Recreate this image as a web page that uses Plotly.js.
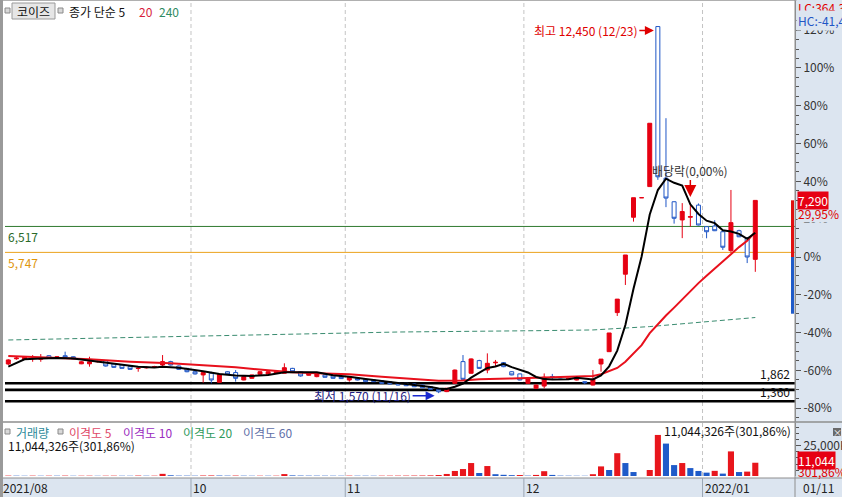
<!DOCTYPE html>
<html><head><meta charset="utf-8">
<script src="https://cdn.plot.ly/plotly-3.0.1.min.js"></script>
<style>html,body{margin:0;padding:0;background:#fff;overflow:hidden}#chart{width:842px;height:497px}</style>
</head><body><div id="chart"></div>
<script>
// ---------------- data ----------------
const dates = [
'2021-08-26','2021-08-27','2021-08-30','2021-08-31',
'2021-09-01','2021-09-02','2021-09-03','2021-09-06','2021-09-07','2021-09-08','2021-09-09','2021-09-10','2021-09-13','2021-09-14','2021-09-15','2021-09-16','2021-09-17','2021-09-23','2021-09-24','2021-09-27','2021-09-28','2021-09-29','2021-09-30',
'2021-10-01','2021-10-05','2021-10-06','2021-10-07','2021-10-08','2021-10-12','2021-10-13','2021-10-14','2021-10-15','2021-10-18','2021-10-19','2021-10-20','2021-10-21','2021-10-22','2021-10-25','2021-10-26','2021-10-27','2021-10-28','2021-10-29',
'2021-11-01','2021-11-02','2021-11-03','2021-11-04','2021-11-05','2021-11-08','2021-11-09','2021-11-10','2021-11-11','2021-11-12','2021-11-15','2021-11-16','2021-11-17','2021-11-18','2021-11-19','2021-11-22','2021-11-23','2021-11-24','2021-11-25','2021-11-26','2021-11-29','2021-11-30',
'2021-12-01','2021-12-02','2021-12-03','2021-12-06','2021-12-07','2021-12-08','2021-12-09','2021-12-10','2021-12-13','2021-12-14','2021-12-15','2021-12-16','2021-12-17','2021-12-20','2021-12-21','2021-12-22','2021-12-23','2021-12-24','2021-12-27','2021-12-28','2021-12-29','2021-12-30',
'2022-01-03','2022-01-04','2022-01-05','2022-01-06','2022-01-07','2022-01-10','2022-01-11'];

const opens = [
2435,2590,2575,2600,2575,2680,2605,2680,2650,2440,
2440,2500,2535,2435,2405,2355,2300,2320,2340,2405,
2505,2375,2305,2205,2110,2160,1890,2205,2180,1960,
2010,2130,2130,2160,2160,2305,2205,2100,2060,2110,
2080,2060,1960,2010,1980,1960,1940,1910,1880,1860,
1840,1810,1760,1680,1615,1860,2505,2160,2535,2255,
2470,2475,2205,2140,1860,1715,1780,2060,1980,1980,
1960,1910,1810,2435,2800,3960,5100,6790,7370,7700,
12450,7950,7250,6710,6790,7150,6510,6530,6360,5800,
6390,6165,5540];
const highs = [
2575,2650,2660,2700,2730,2700,2670,2800,2660,2520,
2650,2530,2550,2450,2420,2370,2355,2360,2380,2700,
2530,2390,2320,2220,2205,2205,2140,2220,2255,2070,
2120,2220,2215,2215,2455,2320,2220,2190,2190,2120,
2090,2070,2070,2020,1990,1970,1950,1920,1890,1870,
1850,1820,1770,1700,1720,2270,2700,2600,2560,2750,
2555,2490,2220,2150,2020,1820,2155,2140,1995,2020,
2040,1915,2255,2580,3355,4360,5670,7370,7370,9580,
12450,9730,7260,7210,7210,7200,6520,6700,6380,7600,
6420,6200,7290];
const lows = [
2405,2560,2560,2500,2500,2590,2590,2600,2570,2430,
2355,2480,2360,2320,2300,2260,2205,2300,2330,2355,
2390,2260,2190,2120,1880,1860,1880,2120,1910,1950,
2000,2120,2120,2150,2150,2190,2060,2090,2040,2030,
2000,1990,1910,1950,1900,1900,1850,1830,1800,1780,
1750,1720,1670,1570,1600,1850,1960,2150,2290,2160,
2375,2340,2100,1950,1850,1700,1710,1960,1970,1960,
1950,1840,1800,2205,2790,3860,4780,6660,7370,7700,
7900,7090,6600,6170,6510,6550,6165,6380,5820,5740,
6200,5430,5170];
const closes = [
2555,2610,2635,2610,2605,2605,2650,2635,2585,2500,
2500,2510,2375,2335,2305,2275,2310,2335,2355,2505,
2405,2275,2205,2140,2180,1960,2130,2130,2010,2060,
2110,2205,2205,2205,2325,2205,2080,2180,2180,2040,
2010,2000,2060,1960,1910,1910,1860,1840,1810,1790,
1760,1730,1685,1610,1715,2255,1980,2585,2305,2455,
2485,2355,2110,1960,2010,1810,2040,2055,1980,2010,
2030,1880,1985,2580,3355,4360,5670,7370,7370,9580,
7990,7360,6760,6960,6810,6560,6360,6390,5900,6630,
6210,5610,7290];
// volume in thousand shares (K)
const volumes = [
300,250,200,280,220,260,240,310,200,230,
260,180,240,270,220,200,350,230,260,1800,
600,300,280,250,400,450,380,300,350,260,
220,240,230,250,1600,500,350,300,280,260,
240,230,300,250,240,220,260,280,300,320,
350,400,500,800,1700,4200,5800,10800,2500,8300,
1500,1000,700,800,300,900,4000,900,300,250,
200,180,1500,8000,5000,19000,10800,3300,0,5000,
34200,27000,9100,10800,6600,4200,2800,4300,2000,20500,
3300,3658.76,11044.326];

// moving averages (index into dates, value)
const ma5Idx  = [0,2,4,6,8,10,12,14,16,18,19,21,23,24,26,28,30,32,34,36,38,40,42,44,46,48,50,52,53,54,55,56,57,58,59,60,61,62,63,64,65,66,67,68,69,70,71,72,73,74,75,76,77,78,79,80,81,82,83,84,85,86,87,88,89,90,91,92];
const ma5Vals = [2354,2574,2600,2615,2600,2540,2480,2405,2350,2330,2354,2320,2260,2220,2140,2095,2080,2110,2190,2200,2190,2098,2057,1990,1935,1880,1820,1755,1710,1690,1760,1849,2029,2168,2316,2362,2437,2342,2273,2184,2049,1986,1975,1979,1979,2023,1991,1977,2095,2366,2832,3590,4667,5625,6870,7597,7935,7812,7729,7174,6888,6688,6615,6403,6368,6298,6148,6328];
const ma20Idx  = [0,3,7,10,15,20,24,28,32,35,38,42,46,50,53,56,58,62,66,71,72,73,74,75,76,77,78,79,80,81,82,83,84,85,86,87,88,89,90,91,92];
const ma20Vals = [2672,2633,2603,2574,2503,2455,2405,2336,2250,2190,2158,2129,2057,1980,1940,1945,1980,2006,2030,2066,2081,2129,2211,2316,2501,2740,2993,3350,3625,3875,4108,4358,4597,4835,5051,5268,5464,5695,5904,6090,6355];
const ma240Idx  = [0,24,48,65,72,79,86,92];
const ma240Vals = [3147,3265,3384,3423,3445,3545,3680,3814];

const basePrice = 5610;          // previous close = 0% on right axis
const limitPct = 30;             // daily price limit band
const pctTicks = [120,100,80,60,40,20,0,-20,-40,-60,-80];
const levelValues = [6517, 5747];
const levelColors = ['#2f7a2f', '#eba21c'];
const supportValues = [1862, 1665, 1330];
const supportLabels = ['1,862', '', '1,360'];
const monthStartDates = ['2021-08-26','2021-10-01','2021-11-01','2021-12-01','2022-01-03'];
const monthLabels = ['2021/08','10','11','12','2022/01'];
const volTickVals = [25000];
const volTickText = ['25,000K'];

// ---------------- layout helpers ----------------
const W = 842, H = 497, ML = 5, MR = 47, PW = W - ML - MR;
const px = x => (x - ML) / PW;
const py = y => 1 - y / H;
const FONT = "'Noto Sans CJK KR', 'Noto Sans', sans-serif";
const RED = '#e60012', BLUE = '#1f56c6', PANEL = '#dce5f0';
const idx = d => dates.indexOf(d);

const traces = [];
traces.push({
  type: 'candlestick', x: dates, open: opens, high: highs, low: lows, close: closes,
  xaxis: 'x', yaxis: 'y', whiskerwidth: 0,
  increasing: {line: {color: RED, width: 1}, fillcolor: RED},
  decreasing: {line: {color: BLUE, width: 1}, fillcolor: '#ffffff'},
  hoverinfo: 'skip'
});
traces.push({type: 'scatter', mode: 'lines', x: ma240Idx.map(i => dates[i]), y: ma240Vals,
  line: {color: '#3a8c70', width: 1, dash: '5px,3px'}, xaxis: 'x', yaxis: 'y', hoverinfo: 'skip'});
traces.push({type: 'scatter', mode: 'lines', x: ma20Idx.map(i => dates[i]), y: ma20Vals,
  line: {color: '#e8101c', width: 2}, xaxis: 'x', yaxis: 'y', hoverinfo: 'skip'});
traces.push({type: 'scatter', mode: 'lines', x: ma5Idx.map(i => dates[i]), y: ma5Vals,
  line: {color: '#000000', width: 2}, xaxis: 'x', yaxis: 'y', hoverinfo: 'skip'});
traces.push({type: 'bar', x: dates, y: volumes, xaxis: 'x', yaxis: 'y2',
  marker: {color: volumes.map((v, i) => (i === 0 || v >= volumes[i - 1]) ? '#e8161c' : '#1f5bc9'), line: {width: 0}},
  hoverinfo: 'skip'});

// ---------------- shapes ----------------
const shapes = [];
shapes.push({type: 'rect', xref: 'paper', yref: 'paper', x0: px(795), x1: px(842), y0: 0, y1: 1, fillcolor: PANEL, line: {width: 0}, layer: 'below'});
shapes.push({type: 'rect', xref: 'paper', yref: 'paper', x0: px(0), x1: px(842), y0: 0, y1: py(478), fillcolor: PANEL, line: {width: 0}, layer: 'below'});
shapes.push({type: 'line', xref: 'paper', yref: 'paper', x0: px(0), x1: px(842), y0: py(478), y1: py(478), line: {color: '#8e8e8e', width: 1}});
shapes.push({type: 'line', xref: 'paper', yref: 'paper', x0: px(0), x1: px(842), y0: py(422), y1: py(422), line: {color: '#8e8e8e', width: 1.5}});
shapes.push({type: 'line', xref: 'paper', yref: 'paper', x0: px(0), x1: px(842), y0: py(0.5), y1: py(0.5), line: {color: '#b0b0b0', width: 1}});
shapes.push({type: 'line', xref: 'paper', yref: 'paper', x0: px(1.5), x1: px(1.5), y0: 0, y1: 1, line: {color: '#9a9a9a', width: 3}});
shapes.push({type: 'line', xref: 'paper', yref: 'paper', x0: px(795), x1: px(795), y0: 0, y1: 1, line: {color: '#8e8e8e', width: 1}});
monthStartDates.forEach((d, k) => {
  const b = idx(d) - 0.5;
  if (k > 0) {
    shapes.push({type: 'line', xref: 'x', yref: 'paper', x0: b, x1: b, y0: py(476), y1: py(1), line: {color: '#c4c4c4', width: 1, dash: '4px,3px'}, layer: 'below'});
    shapes.push({type: 'line', xref: 'x', yref: 'paper', x0: b, x1: b, y0: 0, y1: py(478), line: {color: '#9aa6b4', width: 1}});
  }
});
levelValues.forEach((v, k) => {
  shapes.push({type: 'line', xref: 'paper', yref: 'y', x0: 0, x1: 1, y0: v, y1: v, line: {color: levelColors[k], width: 1}, layer: 'below'});
});
supportValues.forEach(v => {
  shapes.push({type: 'line', xref: 'paper', yref: 'y', x0: 0, x1: 1, y0: v, y1: v, line: {color: '#000000', width: 2.6}, layer: 'below'});
});
shapes.push({type: 'rect', xref: 'paper', yref: 'y', x0: px(791), x1: px(794), y0: basePrice, y1: basePrice * (1 + limitPct / 100), fillcolor: '#e01010', line: {width: 0}});
shapes.push({type: 'rect', xref: 'paper', yref: 'y', x0: px(791), x1: px(794), y0: basePrice * (1 - limitPct / 100), y1: basePrice, fillcolor: '#1f5bc9', line: {width: 0}});
shapes.push({type: 'rect', xref: 'paper', yref: 'paper', x0: px(12), x1: px(55), y0: py(19), y1: py(3), fillcolor: '#e6e6e6', line: {color: '#9a9a9a', width: 1}});
[[5, 8], [58, 8], [5, 429], [58, 429]].forEach(([x, y]) => {
  shapes.push({type: 'rect', xref: 'paper', yref: 'paper', x0: px(x), x1: px(x + 5), y0: py(y + 5), y1: py(y), fillcolor: '#d8d8d8', line: {color: '#8a8a8a', width: 1}});
});
shapes.push({type: 'rect', xref: 'paper', yref: 'paper', x0: px(833), x1: px(841), y0: py(436), y1: py(428), fillcolor: '#6a6a6a', line: {width: 0}});

// ---------------- annotations ----------------
const ann = [];
const T = (x, y, text, color, opts) => Object.assign({xref: 'paper', yref: 'paper', x: px(x), y: py(y), text, showarrow: false,
  xanchor: 'left', yanchor: 'middle', font: {family: FONT, size: 12, color}}, opts || {});
const fmtPct = v => v.toFixed(2).replace('.', ',');
const last = closes[closes.length - 1], prev = closes[closes.length - 2];
const lastVol = volumes[volumes.length - 1], prevVol = volumes[volumes.length - 2];
const volText = Math.round(lastVol * 1000).toLocaleString('en-US') + '주(' + fmtPct(lastVol / prevVol * 100) + '%)';
// top legend
ann.push(T(33.5, 11, '코이즈', '#111', {xanchor: 'center'}));
ann.push(T(67, 11, '종가 단순 5', '#111'));
ann.push(T(137, 11, '20', '#d81e3c'));
ann.push(T(157, 11, '240', '#2e8b62'));
// volume legend
ann.push(T(14, 432, '거래량', '#2d8a9a'));
ann.push(T(67, 432, '이격도 5', '#e04868'));
ann.push(T(121, 432, '이격도 10', '#9a2cc0'));
ann.push(T(181, 432, '이격도 20', '#2f9a5c'));
ann.push(T(241, 432, '이격도 60', '#5f70a8'));
ann.push(T(6, 445, volText, '#111'));
ann.push(T(793, 430, volText, '#111', {xanchor: 'right'}));
// month labels
monthStartDates.forEach((d, k) => {
  if (k === 0) { ann.push(T(1, 487.5, monthLabels[k], '#222')); return; }
  ann.push({xref: 'x', yref: 'paper', x: idx(d) - 0.5, y: py(487.5), text: monthLabels[k], showarrow: false,
    xanchor: 'left', yanchor: 'middle', xshift: 0, font: {family: FONT, size: 12, color: '#222'}});
});
ann.push(T(801, 487.5, '01/11', '#222'));
// level labels
levelValues.forEach((v, k) => {
  ann.push({xref: 'paper', yref: 'y', x: px(6), y: v, text: v.toLocaleString('en-US'), showarrow: false,
    xanchor: 'left', yanchor: 'top', font: {family: FONT, size: 12, color: k === 0 ? '#2a6a2a' : '#e0960c'}});
});
supportValues.forEach((v, k) => {
  if (!supportLabels[k]) return;
  ann.push({xref: 'paper', yref: 'y', x: px(792), y: v, text: supportLabels[k], showarrow: false,
    xanchor: 'right', yanchor: 'bottom', yshift: -1, font: {family: FONT, size: 12, color: '#111'}});
});
// high / low markers
const hiI = highs.indexOf(Math.max(...highs)), loI = lows.indexOf(Math.min(...lows));
ann.push({xref: 'x', yref: 'y', x: hiI, y: highs[hiI], text: '최고 12,450 (12/23)', showarrow: true,
  ax: -72, ay: 0, yshift: -4, standoff: 4, arrowhead: 2, arrowsize: 1.2, arrowwidth: 1.5, arrowcolor: '#e00000',
  font: {family: FONT, size: 12, color: '#e00000'}});
ann.push({xref: 'x', yref: 'y', x: loI, y: lows[loI], text: '최저 1,570 (11/16)', showarrow: true,
  ax: -76, ay: 0, yshift: -2.5, standoff: 4, arrowhead: 2, arrowsize: 1.2, arrowwidth: 1.5, arrowcolor: '#1a2ad0',
  font: {family: FONT, size: 12, color: '#1e2080'}});
const exI = idx('2021-12-29');
ann.push({xref: 'x', yref: 'y', x: exI, y: highs[exI], text: '배당락(0,00%)', showarrow: true,
  ax: 0, ay: -33, standoff: 6, arrowhead: 2, arrowsize: 1.6, arrowwidth: 1.5, arrowcolor: '#e00000',
  font: {family: FONT, size: 12, color: '#333'}});
// right panel labels
const minLow = Math.min(...lows), maxHigh = Math.max(...highs);
ann.push(T(796, 8, 'LC:' + fmtPct((last / minLow - 1) * 100) + '%', '#e00000', {bgcolor: PANEL}));
ann.push(T(796, 20, 'HC:' + fmtPct((last / maxHigh - 1) * 100) + '%', '#1f56c6', {bgcolor: PANEL}));
ann.push(T(797, 213, fmtPct((last / prev - 1) * 100) + '%', '#e00000', {bgcolor: PANEL, borderpad: 0}));
ann.push({xref: 'paper', yref: 'y', x: px(797), y: last, text: last.toLocaleString('en-US'), showarrow: false,
  xanchor: 'left', yanchor: 'middle', bgcolor: '#e60012', borderpad: 0, font: {family: FONT, size: 12, color: '#ffffff'}});
ann.push(T(797, 471, fmtPct(lastVol / prevVol * 100) + '%', '#e00000', {borderpad: 0}));
ann.push({xref: 'paper', yref: 'paper', x: px(797), y: py(460.5), text: Math.round(lastVol).toLocaleString('en-US'), showarrow: false,
  xanchor: 'left', yanchor: 'middle', bgcolor: '#e60012', borderpad: 0, font: {family: FONT, size: 12, color: '#ffffff'}});
ann.push(T(837, 432, '×', '#ffffff', {xanchor: 'center', font: {family: FONT, size: 9, color: '#ffffff'}}));

// ---------------- axes ----------------
const minorPct = [];
for (let p = -85; p <= 125; p += 5) if (p % 20 !== 0) minorPct.push(p);
const layout = {
  width: W, height: H, margin: {l: ML, r: MR, t: 0, b: 0, pad: 0},
  paper_bgcolor: '#ffffff', plot_bgcolor: '#ffffff', showlegend: false, hovermode: false,
  font: {family: FONT, size: 12, color: '#222'}, bargap: 0.25,
  xaxis: {type: 'category', categoryorder: 'array', categoryarray: dates, range: [-0.4064, 96.89],
    showticklabels: false, showgrid: false, zeroline: false, showline: false, ticks: '',
    rangeslider: {visible: false}, anchor: 'y2', fixedrange: true},
  yaxis: {domain: [py(422), py(0)], range: [713, 13238], side: 'right', anchor: 'x',
    tickmode: 'array', tickvals: pctTicks.map(p => basePrice * (1 + p / 100)), ticktext: pctTicks.map(p => p + '%'),
    ticks: 'outside', ticklen: 5, tickcolor: '#555', showline: true, linecolor: '#8e8e8e',
    showgrid: false, zeroline: false, tickfont: {family: FONT, size: 12, color: '#333'},
    minor: {tickmode: 'array', tickvals: minorPct.map(p => basePrice * (1 + p / 100)), ticks: 'outside', ticklen: 3, tickcolor: '#555', showgrid: false},
    fixedrange: true},
  yaxis2: {domain: [py(476), py(423)], range: [0, 44150], side: 'right', anchor: 'x',
    tickmode: 'array', tickvals: volTickVals, ticktext: volTickText,
    ticks: 'outside', ticklen: 5, tickcolor: '#555', showline: true, linecolor: '#8e8e8e',
    showgrid: false, zeroline: false, tickfont: {family: FONT, size: 12, color: '#333'},
    minor: {tickmode: 'array', tickvals: [5000, 10000, 15000, 20000, 30000, 35000, 40000], ticks: 'outside', ticklen: 3, tickcolor: '#555', showgrid: false},
    fixedrange: true},
  shapes: shapes, annotations: ann
};
Plotly.newPlot('chart', traces, layout, {staticPlot: true, displayModeBar: false});
</script></body></html>
